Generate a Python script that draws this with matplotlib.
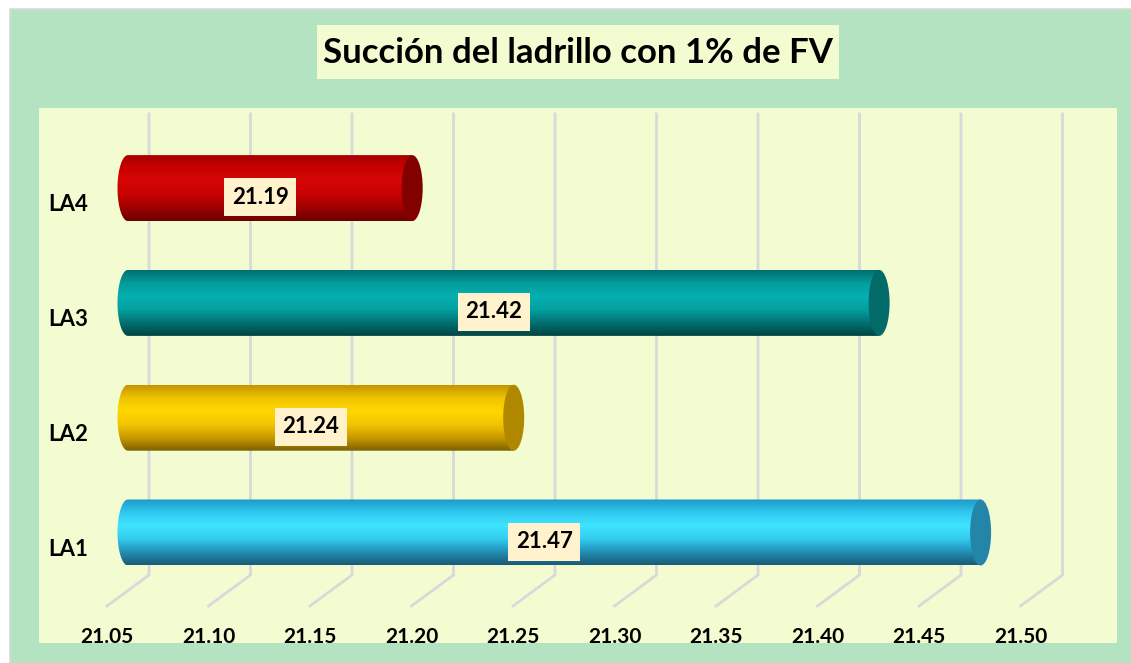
import matplotlib.pyplot as plt
import numpy as np
from matplotlib.patches import Rectangle, Ellipse, Polygon
from matplotlib.colors import LinearSegmentedColormap

# datos del grafico
categorias = ['LA1', 'LA2', 'LA3', 'LA4']
valores = [21.47, 21.24, 21.42, 21.19]
ticks = [21.05, 21.10, 21.15, 21.20, 21.25, 21.30, 21.35, 21.40, 21.45, 21.50]
base = 21.05
titulo = 'Succión del ladrillo con 1% de FV'

# colores de cada cilindro (arriba -> abajo) y de la tapa
grad = {
    'LA1': ['#1f98c8', '#30c8f0', '#40e4ff', '#34cdf0', '#2290b8', '#1a5a74'],
    'LA2': ['#c49400', '#f0c400', '#ffd800', '#f2c400', '#c89a00', '#7c6000'],
    'LA3': ['#036e6e', '#049c9c', '#05b0b0', '#04a0a0', '#037070', '#024444'],
    'LA4': ['#a40000', '#c80000', '#d80606', '#c80202', '#a00000', '#6a0000'],
}
tapa = {'LA1': '#2386a8', 'LA2': '#b08800', 'LA3': '#036a6a', 'LA4': '#820000'}

W, H = 1131, 663
fig = plt.figure(figsize=(W / 100, H / 100), dpi=100)
fig.patch.set_facecolor('white')

def fx(px):
    return px / W

def fy(py):
    return 1 - py / H

# fondo verde
fig.patches.append(Rectangle((fx(9.5), -0.05), 1.1, fy(9.5) + 0.05, transform=fig.transFigure,
                             facecolor='#b3e3c0', edgecolor='#d9d9d9', lw=1.2, zorder=-2))

# caja del titulo
fig.patches.append(Rectangle((fx(317), fy(79)), fx(839) - fx(317), fy(25) - fy(79),
                             transform=fig.transFigure, facecolor='#f3fbd0',
                             edgecolor='none', zorder=1))
fig.text(fx(578), fy(53), titulo, ha='center', va='center', fontsize=25,
         fontweight='bold', family='Lato', color='black', zorder=2)

# area de trazado
left, right, top, bottom = 39, 1117, 108, 643
ax = fig.add_axes([fx(left), fy(bottom), fx(right) - fx(left), fy(top) - fy(bottom)])
ax.set_facecolor('#f3fbd0')
for s in ax.spines.values():
    s.set_visible(False)
ax.set_xticks([])
ax.set_yticks([])

# escala: pixeles por unidad
sx = 101.5 / 0.05
sy = 114.8
x0px = 128
y0px = 532.5
ax.set_xlim(base + (left - x0px) / sx, base + (right - x0px) / sx)
ax.set_ylim((y0px - bottom) / sy, (y0px - top) / sy)

dx = 21 / sx      # desplazamiento de profundidad (mitad)

# lineas de division en perspectiva
y_back = (y0px - 575) / sy
y_front = (y0px - 606) / sy
y_top = (y0px - 114) / sy
for t in ticks:
    xb = t + dx
    ax.plot([xb, xb, t - dx], [y_top, y_back, y_front], color='#d9d9d9', lw=2,
            solid_joinstyle='miter', zorder=1)
    ax.text(t - dx, (y0px - 637) / sy, f'{t:.2f}', ha='center', va='center',
            fontsize=15, fontweight='bold', family='Lato', clip_on=False, zorder=5)

# cilindros
a = 10.5 / sx
b = 33 / sy
gy = np.linspace(0, 1, 256).reshape(-1, 1)
for i, (cat, v) in enumerate(zip(categorias, valores)):
    cmap = LinearSegmentedColormap.from_list(cat, grad[cat])
    ang = np.linspace(np.pi / 2, 3 * np.pi / 2, 60)
    pts = np.column_stack([base + a * np.cos(ang), i + b * np.sin(ang)])
    pts = np.vstack([pts, [[v, i - b], [v, i + b]]])
    clip = Polygon(pts, closed=True, facecolor='none', edgecolor='none',
                   transform=ax.transData)
    ax.add_patch(clip)
    im = ax.imshow(gy, cmap=cmap, aspect='auto', origin='upper',
                   extent=(base - a, v, i - b, i + b), zorder=3, interpolation='bilinear')
    im.set_clip_path(clip)
    ax.add_patch(Ellipse((v, i), 2 * a, 2 * b, facecolor=tapa[cat],
                         edgecolor='none', zorder=4))

    # etiqueta de datos
    cx = (base + v) / 2 - 10 / sx
    cy = i - 9 / sy
    bw, bh = 72 / sx, 38 / sy
    ax.add_patch(Rectangle((cx - bw / 2, cy - bh / 2), bw, bh, facecolor='#fff2cc',
                           edgecolor='none', zorder=5))
    ax.text(cx, cy, f'{v:.2f}', ha='center', va='center', fontsize=16,
            fontweight='bold', family='Lato', zorder=6)

    # categoria
    ax.text(base + (48 - x0px) / sx, i - 16.5 / sy, cat, ha='left', va='center',
            fontsize=16, fontweight='bold', family='Lato', zorder=5)

fig.savefig('out.png', dpi=100, facecolor=fig.get_facecolor())
